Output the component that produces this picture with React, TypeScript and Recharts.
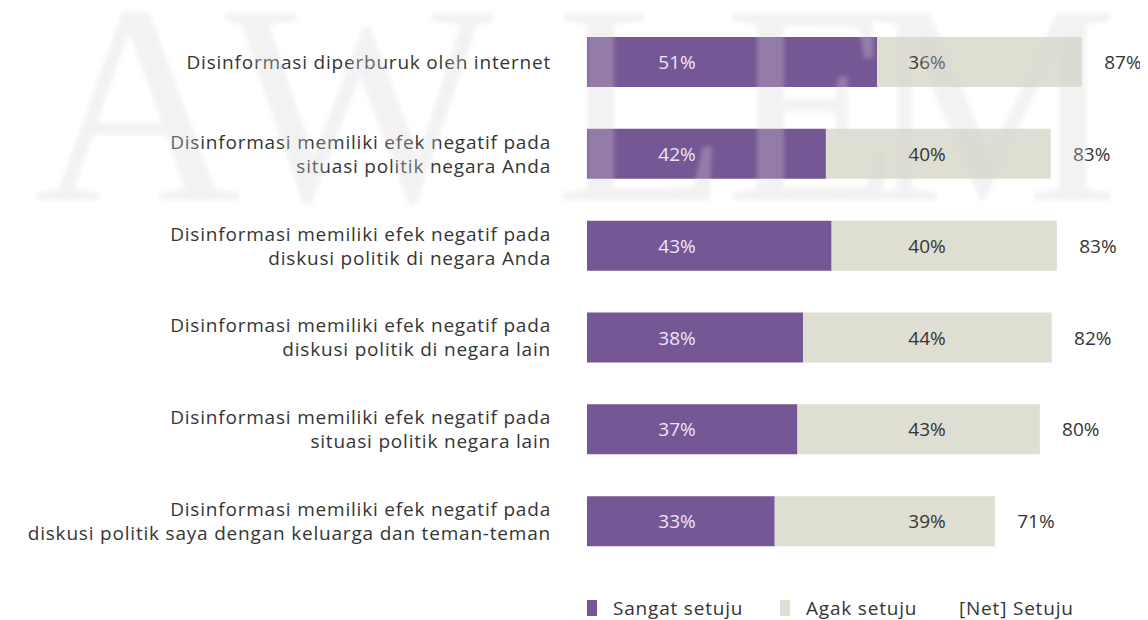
import { BarChart, Bar, XAxis, YAxis, Legend, LabelList } from 'recharts';

const categories = [
  'Disinformasi diperburuk oleh internet',
  'Disinformasi memiliki efek negatif pada\nsituasi politik negara Anda',
  'Disinformasi memiliki efek negatif pada\ndiskusi politik di negara Anda',
  'Disinformasi memiliki efek negatif pada\ndiskusi politik di negara lain',
  'Disinformasi memiliki efek negatif pada\nsituasi politik negara lain',
  'Disinformasi memiliki efek negatif pada\ndiskusi politik saya dengan keluarga dan teman-teman',
];

const sangatSetuju = [51, 42, 43, 38, 37, 33];
const agakSetuju = [36, 39.5, 39.6, 43.7, 42.6, 38.7];
const netSetuju = [87, 83, 83, 82, 80, 71];

const watermarkLetters = ['A', 'W', 'L', 'E', 'M'];

const PURPLE = '#765795';
const BEIGE = '#dfded2';
const TEXT = '#353535';
const FONT = '"Open Sans", sans-serif';
const FS = 19;
const LS = 0.8;
const YAXIS_W = 579;

const data = categories.map((name, i) => ({
  name,
  sangat: sangatSetuju[i],
  agak: agakSetuju[i],
  net: netSetuju[i],
}));

function CategoryTick({ x, y, payload }: any) {
  const lines = String(payload.value).split('\n');
  const start = -((lines.length - 1) * 24) / 2;
  return (
    <g>
      {lines.map((line, i) => (
        <text
          key={i}
          x={x}
          y={y + start + i * 24}
          textAnchor="end"
          dominantBaseline="central"
          fontFamily={FONT}
          fontSize={FS}
          letterSpacing={LS}
          fill={TEXT}
        >
          {line}
        </text>
      ))}
    </g>
  );
}

// first segment label sits at a fixed column
function SangatLabel({ y, height, value }: any) {
  return (
    <text x={YAXIS_W + 90} y={y + height / 2} textAnchor="middle" dominantBaseline="central"
      fontFamily={FONT} fontSize={FS} fill="#ede6f4">
      {Math.round(value)}%
    </text>
  );
}

function AgakLabel({ x, y, width, height, value, index }: any) {
  return (
    <g>
      <text x={YAXIS_W + 340} y={y + height / 2} textAnchor="middle" dominantBaseline="central"
        fontFamily={FONT} fontSize={FS} fill={TEXT}>
        {Math.round(value)}%
      </text>
      <text x={x + width + 41} y={y + height / 2} textAnchor="middle" dominantBaseline="central"
        fontFamily={FONT} fontSize={FS} fill={TEXT}>
        {netSetuju[index]}%
      </text>
    </g>
  );
}

function LegendContent() {
  const item = {
    position: 'absolute' as const, top: 29, height: 24, display: 'flex', alignItems: 'center',
    fontFamily: FONT, fontSize: FS, letterSpacing: LS, color: TEXT, whiteSpace: 'nowrap' as const,
  };
  const swatch = { width: 10, height: 16, marginRight: 16, display: 'inline-block' };
  return (
    <div style={{ position: 'relative', height: 53 }}>
      <div style={{ ...item, left: YAXIS_W }}>
        <span style={{ ...swatch, background: PURPLE }} />
        Sangat setuju
      </div>
      <div style={{ ...item, left: YAXIS_W + 193 }}>
        <span style={{ ...swatch, background: BEIGE }} />
        Agak setuju
      </div>
      <div style={{ ...item, left: YAXIS_W + 372 }}>[Net] Setuju</div>
    </div>
  );
}

export default function App() {
  const letterX = [27, 217, 547, 717, 857];
  return (
    <div style={{ position: 'relative', width: 1140, height: 612 }}>
      <BarChart
        width={1140}
        height={612}
        data={data}
        layout="vertical"
        barSize={50}
        margin={{ top: 8, right: 49, bottom: 0, left: 0 }}
      >
        <XAxis type="number" domain={[0, 90]} hide />
        <YAxis
          type="category"
          dataKey="name"
          width={YAXIS_W}
          axisLine={false}
          tickLine={false}
          tickSize={0}
          tickMargin={36}
          tick={<CategoryTick />}
          interval={0}
        />
        <Legend height={53} verticalAlign="bottom" wrapperStyle={{ left: 0, width: 1140 }} content={<LegendContent />} />
        <Bar dataKey="sangat" stackId="a" fill={PURPLE} isAnimationActive={false}>
          <LabelList dataKey="sangat" content={<SangatLabel />} />
        </Bar>
        <Bar dataKey="agak" stackId="a" fill={BEIGE} isAnimationActive={false}>
          <LabelList dataKey="agak" content={<AgakLabel />} />
        </Bar>
      </BarChart>
      <svg width={1140} height={612} style={{ position: 'absolute', left: 0, top: 0, pointerEvents: 'none' }}>
        <defs>
          <filter id="wmblur">
            <feGaussianBlur stdDeviation="2" />
          </filter>
        </defs>
        <g filter="url(#wmblur)" fill="#d6d6d6" opacity={0.3} fontFamily='"Liberation Serif", serif' fontSize={285}>
          {watermarkLetters.map((l, i) => (
            <text key={l} x={letterX[i]} y={192}>{l}</text>
          ))}
        </g>
      </svg>
    </div>
  );
}
